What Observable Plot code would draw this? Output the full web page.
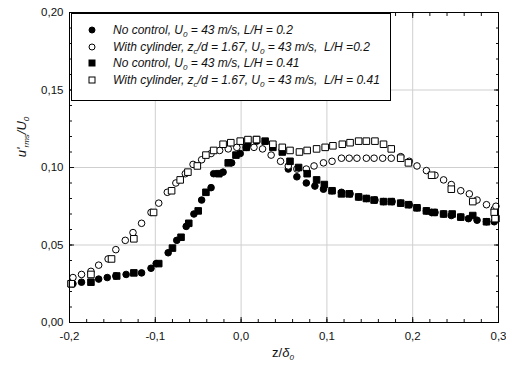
<!DOCTYPE html>
<html>
<head>
<meta charset="utf-8">
<script src="https://cdn.jsdelivr.net/npm/d3@7"></script>
<script src="https://cdn.jsdelivr.net/npm/@observablehq/plot@0.6"></script>
<style>
  body { margin: 0; background: #fff; }
  #wrap { position: relative; width: 506px; height: 367px; overflow: hidden;
          font-family: "Liberation Sans", Arial, sans-serif; color: #111; }
  #legend { position: absolute; left: 71px; top: 13px; width: 320px; height: 88px;
            border: 1.5px solid #000; box-sizing: border-box; background: #fff; }
  .row { position: absolute; left: 0; height: 16px; font-size: 12px; font-style: italic;
         white-space: nowrap; display: flex; align-items: center; }
  .row svg { position: absolute; left: 16px; }
  .row span { position: absolute; left: 41px; }
  sub { font-size: 8px; vertical-align: -3px; line-height: 0; }
  #ylab { position: absolute; left: 21px; top: 137px; transform: translate(-50%, -50%) rotate(-90deg);
          font-size: 13px; font-style: italic; white-space: nowrap; }
  #xlab { position: absolute; left: 283px; top: 352px; transform: translate(-50%, -50%);
          font-size: 13px; white-space: nowrap; }
</style>
</head>
<body>
<div id="wrap"></div>
<script>
// ---- tick values ----
const xMajor = [-0.2, -0.1, 0.0, 0.1, 0.2, 0.3];
const xMinor = [-0.2, -0.18, -0.16, -0.14, -0.12, -0.1, -0.08, -0.06, -0.04, -0.02, 0, 0.02, 0.04, 0.06, 0.08, 0.1, 0.12, 0.14, 0.16, 0.18, 0.2, 0.22, 0.24, 0.26, 0.28, 0.3];
const yMajor = [0, 0.05, 0.10, 0.15, 0.20];
const yMinor = [0, 0.01, 0.02, 0.03, 0.04, 0.05, 0.06, 0.07, 0.08, 0.09, 0.10, 0.11, 0.12, 0.13, 0.14, 0.15, 0.16, 0.17, 0.18, 0.19, 0.20];

// ---- series data [z/delta0, u'rms/U0] ----
const noControl02 = [
  [-0.196,0.025],[-0.186,0.026],[-0.166,0.028],[-0.156,0.029],[-0.146,0.030],[-0.134,0.031],
  [-0.116,0.032],[-0.105,0.035],[-0.099,0.038],[-0.085,0.045],[-0.075,0.053],[-0.064,0.062],
  [-0.055,0.070],[-0.046,0.079],[-0.035,0.087],[-0.032,0.096],[-0.021,0.097],[-0.011,0.103],
  [-0.001,0.109],[0.008,0.115],[0.018,0.117],[0.055,0.099],[0.065,0.094],[0.076,0.090],
  [0.086,0.088],[0.096,0.086],[0.106,0.085],[0.117,0.084],[0.127,0.083],[0.137,0.081],
  [0.146,0.080],[0.156,0.079],[0.166,0.078],[0.176,0.078],[0.186,0.077],[0.196,0.076],
  [0.205,0.074],[0.216,0.072],[0.222,0.071],[0.226,0.071],[0.236,0.070],[0.245,0.069],
  [0.256,0.068],[0.265,0.067],[0.275,0.066],[0.286,0.065],[0.295,0.065],[0.296,0.069]
];
const cylinder02 = [
  [-0.196,0.029],[-0.186,0.031],[-0.175,0.033],[-0.166,0.037],[-0.155,0.041],[-0.146,0.047],
  [-0.135,0.053],[-0.126,0.058],[-0.116,0.064],[-0.105,0.071],[-0.096,0.077],[-0.086,0.084],
  [-0.076,0.090],[-0.065,0.096],[-0.056,0.102],[-0.046,0.105],[-0.035,0.109],[-0.025,0.111],
  [-0.015,0.112],[-0.005,0.113],[0.006,0.113],[0.015,0.113],[0.025,0.112],[0.035,0.108],
  [0.046,0.104],[0.055,0.101],[0.065,0.099],[0.076,0.099],[0.085,0.101],[0.096,0.103],
  [0.106,0.104],[0.117,0.106],[0.126,0.106],[0.135,0.106],[0.146,0.106],[0.155,0.106],
  [0.165,0.106],[0.175,0.106],[0.186,0.107],[0.196,0.104],[0.205,0.101],[0.216,0.098],
  [0.226,0.095],[0.236,0.092],[0.245,0.089],[0.256,0.085],[0.266,0.083],[0.275,0.079],
  [0.286,0.076],[0.295,0.073],[0.297,0.075]
];
const noControl041 = [
  [-0.198,0.025],[-0.175,0.026],[-0.145,0.030],[-0.125,0.032],[-0.096,0.038],[-0.080,0.048],
  [-0.070,0.055],[-0.061,0.064],[-0.050,0.072],[-0.041,0.084],[-0.026,0.096],[-0.015,0.103],
  [-0.006,0.108],[0.006,0.113],[0.018,0.118],[0.028,0.117],[0.037,0.113],[0.048,0.110],
  [0.057,0.104],[0.067,0.100],[0.077,0.096],[0.088,0.092],[0.097,0.089],[0.106,0.085],
  [0.117,0.083],[0.126,0.083],[0.137,0.081],[0.146,0.080],[0.155,0.079],[0.166,0.078],
  [0.175,0.078],[0.186,0.077],[0.195,0.076],[0.205,0.074],[0.216,0.072],[0.225,0.071],
  [0.236,0.070],[0.246,0.070],[0.256,0.068],[0.270,0.069],[0.286,0.065],[0.296,0.070],[0.297,0.067]
];
const cylinder041 = [
  [-0.198,0.025],[-0.175,0.031],[-0.151,0.041],[-0.125,0.054],[-0.102,0.071],[-0.081,0.085],
  [-0.071,0.092],[-0.062,0.097],[-0.051,0.101],[-0.041,0.108],[-0.032,0.111],[-0.021,0.115],
  [-0.012,0.116],[-0.001,0.117],[0.008,0.118],[0.018,0.118],[0.037,0.115],[0.048,0.113],
  [0.057,0.111],[0.068,0.110],[0.077,0.111],[0.088,0.112],[0.098,0.113],[0.107,0.114],
  [0.118,0.115],[0.127,0.116],[0.137,0.117],[0.146,0.117],[0.156,0.117],[0.166,0.115],
  [0.175,0.112],[0.186,0.106],[0.195,0.103],[0.222,0.095],[0.245,0.086],[0.270,0.078],
  [0.295,0.071],[0.296,0.067]
];

const legendLabels = [
  'No control, U<sub>0</sub> = 43 m/s, L/H = 0.2',
  'With cylinder, z<sub>c</sub>/d = 1.67, U<sub>0</sub> = 43 m/s,&nbsp; L/H =0.2',
  'No control, U<sub>0</sub> = 43 m/s, L/H = 0.41',
  'With cylinder, z<sub>c</sub>/d = 1.67, U<sub>0</sub> = 43 m/s,&nbsp; L/H = 0.41'
];
const series = [
  {data: noControl02,  symbol: "circle", fill: "black"},
  {data: cylinder02,   symbol: "circle", fill: "white"},
  {data: noControl041, symbol: "square", fill: "black"},
  {data: cylinder041,  symbol: "square", fill: "white"}
];

const fmtX = d => d.toFixed(1).replace(".", ",");
const fmtY = d => d.toFixed(2).replace(".", ",");
const blank = () => "";

const dotMarks = series.map(s => Plot.dot(s.data, {
  x: d => d[0], y: d => d[1], symbol: () => s.symbol,
  r: s.symbol === "square" ? 3.7 : 3.3,
  fill: s.fill, stroke: "black", strokeWidth: 1
}));

const chart = Plot.plot({
  width: 506, height: 367,
  marginLeft: 69, marginRight: 8, marginTop: 12, marginBottom: 45,
  x: {domain: [-0.2, 0.3], label: null},
  y: {domain: [0, 0.2], label: null},
  symbol: {domain: ["circle", "square"], range: ["circle", "square"]},
  style: {fontFamily: "'Liberation Sans', Arial, sans-serif", fontSize: "11.5px", color: "#111", background: "white", overflow: "visible"},
  marks: [
    Plot.gridX(xMajor, {stroke: "#cfcfcf", strokeOpacity: 1}),
    Plot.gridY(yMajor, {stroke: "#cfcfcf", strokeOpacity: 1}),
    Plot.axisX({ticks: xMinor, anchor: "bottom", tickSize: -3, tickFormat: blank, label: null}),
    Plot.axisX({ticks: xMinor, anchor: "top", tickSize: -3, tickFormat: blank, label: null}),
    Plot.axisX({ticks: xMajor, anchor: "bottom", tickSize: -5, tickPadding: 14, tickFormat: fmtX, label: null}),
    Plot.axisX({ticks: xMajor, anchor: "top", tickSize: -5, tickFormat: blank, label: null}),
    Plot.axisY({ticks: yMinor, anchor: "left", tickSize: -3, tickFormat: blank, label: null}),
    Plot.axisY({ticks: yMinor, anchor: "right", tickSize: -3, tickFormat: blank, label: null}),
    Plot.axisY({ticks: yMajor, anchor: "left", tickSize: -5, tickPadding: 11, tickFormat: fmtY, label: null}),
    Plot.axisY({ticks: yMajor, anchor: "right", tickSize: -5, tickFormat: blank, label: null}),
    ...dotMarks,
    Plot.frame({stroke: "black", strokeWidth: 1})
  ]
});

const wrap = document.getElementById("wrap");
wrap.appendChild(chart);

// legend
const legend = document.createElement("div");
legend.id = "legend";
const rowTops = [8, 25, 41, 58];
series.forEach((s, i) => {
  const row = document.createElement("div");
  row.className = "row";
  row.style.top = rowTops[i] + "px";
  const shape = s.symbol === "circle"
    ? `<circle cx="4" cy="4" r="3" fill="${s.fill}" stroke="black" stroke-width="1"/>`
    : `<rect x="1" y="1" width="6" height="6" fill="${s.fill}" stroke="black" stroke-width="1"/>`;
  row.innerHTML = `<svg width="8" height="8" viewBox="0 0 8 8">${shape}</svg><span>${legendLabels[i]}</span>`;
  legend.appendChild(row);
});
wrap.appendChild(legend);

const ylab = document.createElement("div");
ylab.id = "ylab";
ylab.innerHTML = "u'<sub>rms</sub>/U<sub>0</sub>";
wrap.appendChild(ylab);

const xlab = document.createElement("div");
xlab.id = "xlab";
xlab.innerHTML = "z/<i>δ</i><sub><i>0</i></sub>";
wrap.appendChild(xlab);
</script>
</body>
</html>
